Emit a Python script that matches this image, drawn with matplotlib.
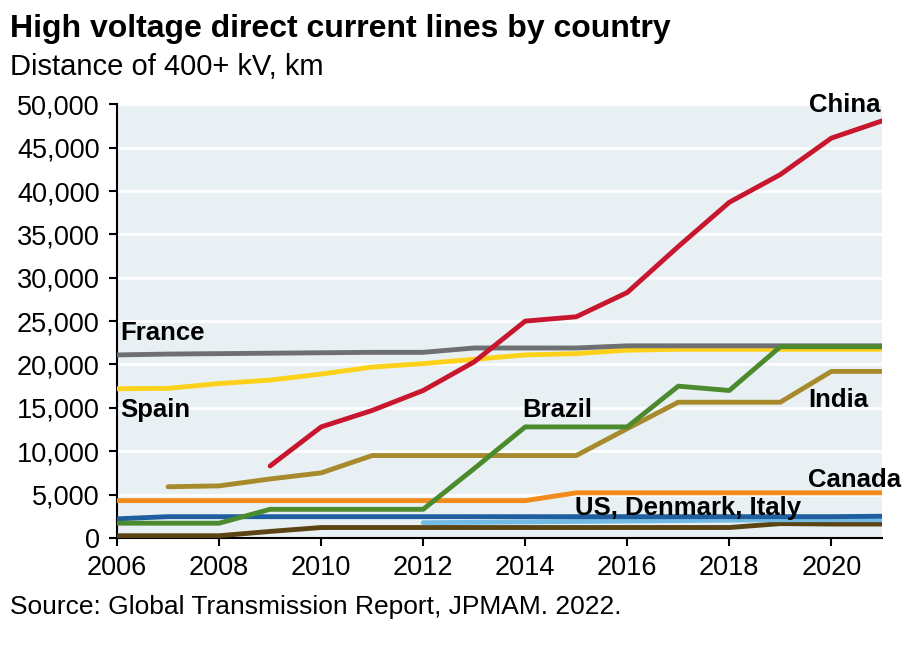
import matplotlib.pyplot as plt
from matplotlib.ticker import FuncFormatter

plt.rcParams['font.family'] = ['Liberation Sans', 'DejaVu Sans']

years = list(range(2006, 2022))

china = [None, None, None, 8300, 12800, 14700, 17000, 20300, 25000, 25500,
         28300, 33600, 38700, 41900, 46100, 48100]
france = [21100, 21200, 21250, 21300, 21350, 21400, 21400, 21900, 21900, 21900,
          22150, 22150, 22150, 22150, 22150, 22150]
spain = [17200, 17250, 17800, 18200, 18900, 19700, 20100, 20600, 21100, 21250,
         21650, 21750, 21750, 21750, 21750, 21750]
brazil = [1700, 1700, 1700, 3300, 3300, 3300, 3300, 8000, 12800, 12800,
          12800, 17500, 17000, 22050, 22050, 22050]
india = [None, 5900, 6000, 6800, 7500, 9500, 9500, 9500, 9500, 9500,
         12600, 15650, 15650, 15650, 19200, 19200]
canada = [4300, 4300, 4300, 4300, 4300, 4300, 4300, 4300, 4300, 5200,
          5200, 5200, 5200, 5200, 5200, 5200]
us = [2200, 2450, 2450, 2450, 2450, 2450, 2450, 2450, 2450, 2450,
      2450, 2450, 2450, 2450, 2450, 2500]
denmark = [None, None, None, None, None, None, 1750, 1800, 1850, 1900,
           1950, 2000, 2050, 2100, 2100, 2100]
italy = [250, 250, 250, 750, 1200, 1200, 1200, 1200, 1200, 1200,
         1200, 1200, 1200, 1650, 1600, 1600]

series = [
    (italy, '#5b4314'),
    (denmark, '#72bbe3'),
    (us, '#1f5fa0'),
    (canada, '#f28a1c'),
    (india, '#a78a2c'),
    (spain, '#fdd11a'),
    (france, '#6e6f72'),
    (brazil, '#4c8a2e'),
    (china, '#c8162f'),
]

fig = plt.figure(figsize=(9.22, 6.56), dpi=100)
ax = fig.add_axes([0.127, 0.180, 0.830, 0.661])
ax.set_facecolor('#e8f0f3')

for vals, color in series:
    xs = [y for y, v in zip(years, vals) if v is not None]
    ys = [v for v in vals if v is not None]
    ax.plot(xs, ys, color=color, lw=3.5, solid_capstyle='round', zorder=3)

ax.set_xlim(2006, 2021)
ax.set_ylim(0, 50000)
ax.set_xticks(range(2006, 2021, 2))
ax.set_yticks(range(0, 50001, 5000))
ax.yaxis.set_major_formatter(FuncFormatter(lambda v, p: f'{int(v):,}'))
ax.grid(axis='y', color='white', lw=1.8, zorder=1)
ax.set_axisbelow(True)
ax.tick_params(labelsize=19.5, length=5.5, width=1.5, direction='out', pad=7)
ax.tick_params(axis='x', pad=7)
for s in ['top', 'right']:
    ax.spines[s].set_visible(False)
for s in ['left', 'bottom']:
    ax.spines[s].set_linewidth(1.5)

lab = dict(fontsize=18.5, fontweight='bold', color='black', va='center', zorder=5)
ax.text(2020.27, 49900, 'China', ha='center', **lab)
ax.text(2006.06, 23600, 'France', ha='left', **lab)
ax.text(2006.06, 14700, 'Spain', ha='left', **lab)
ax.text(2013.94, 14700, 'Brazil', ha='left', **lab)
ax.text(2019.55, 15900, 'India', ha='left', **lab)
ax.text(2019.55, 6700, 'Canada', ha='left', **lab)
ax.text(2014.98, 3450, 'US, Denmark, Italy', ha='left', **lab)

fig.text(0.011, 0.956, 'High voltage direct current lines by country',
         fontsize=23, fontweight='bold', va='center')
fig.text(0.011, 0.898, 'Distance of 400+ kV, km', fontsize=21, va='center')
fig.text(0.011, 0.075, 'Source: Global Transmission Report, JPMAM. 2022.',
         fontsize=19, va='center')

fig.savefig('out.png', dpi=100)
